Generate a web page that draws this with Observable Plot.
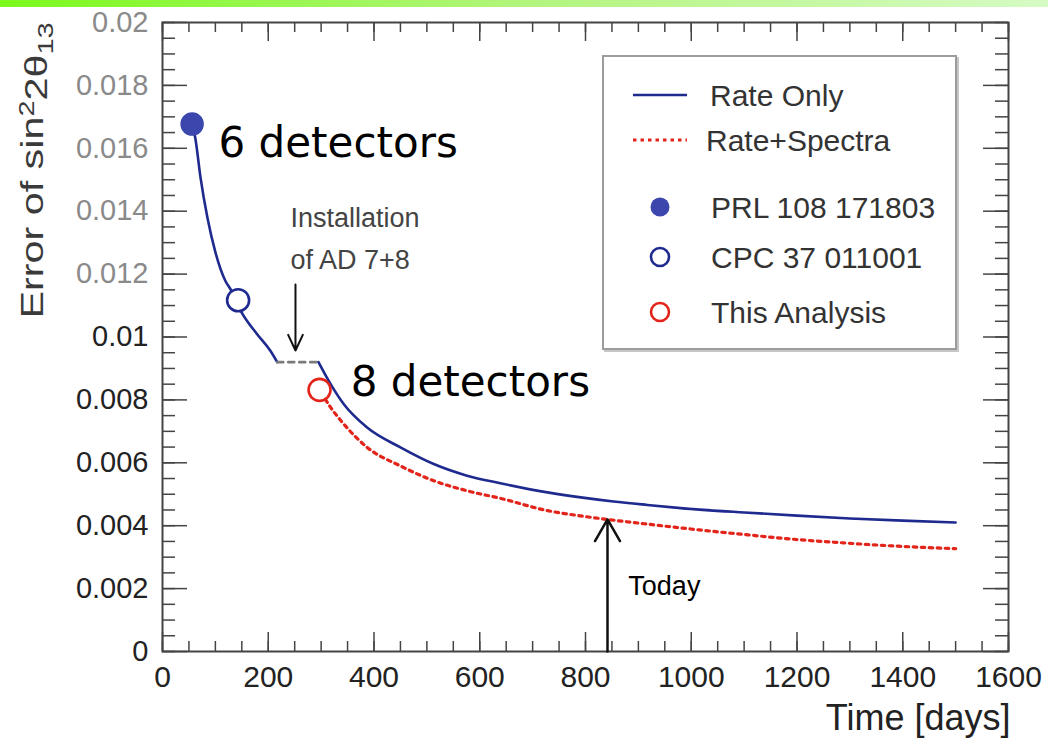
<!DOCTYPE html>
<html>
<head>
<meta charset="utf-8">
<script src="https://cdn.jsdelivr.net/npm/d3@7"></script>
<script src="https://cdn.jsdelivr.net/npm/@observablehq/plot@0.6"></script>
<style>
  html, body { margin: 0; padding: 0; background: #fff; }
  #wrap { position: relative; width: 1048px; height: 744px; overflow: hidden; }
  #topbar { position: absolute; left: 0; top: 0; width: 1048px; height: 7px;
            background: linear-gradient(to right, #7cf91c, #b2f57c 50%, #d6fbc4); }
  #legend { position: absolute; left: 602px; top: 55px; width: 351px; height: 291px;
            border: 2px solid #9c9c9c; box-shadow: 2px 2px 0 #c6c6c6; background: #fff; }
</style>
</head>
<body>
<div id="wrap">
  <div id="chart"></div>
  <div id="topbar"></div>
  <div id="legend"></div>
</div>
<script>
// Sensitivity projection: error of sin^2(2θ13) versus data-taking time

// Rate-only projection, 6-detector period
const rateOnly6Days = [56, 62, 72, 85, 100, 119, 129, 149, 179, 204, 217];
const rateOnly6Err  = [0.01677, 0.01633, 0.01506, 0.01379, 0.0127, 0.01178, 0.01151, 0.0108, 0.01009, 0.00956, 0.0092];

// Pause while AD 7+8 are installed
const installDays = [217, 295];
const installErr  = [0.0092, 0.0092];

// Rate-only projection, 8-detector period
const rateOnly8Days = [295, 318, 343, 387, 450, 513, 576, 639, 728, 791, 853, 917, 980, 1100, 1200, 1300, 1400, 1500];
const rateOnly8Err  = [0.0092, 0.0085, 0.00786, 0.00712, 0.00649, 0.00596, 0.00559, 0.00535, 0.00506, 0.0049, 0.00477, 0.00466, 0.00456, 0.00442, 0.00432, 0.00423, 0.00416, 0.0041];

// Rate + spectra projection
const rateSpecDays = [308, 318, 343, 387, 450, 513, 576, 639, 728, 791, 841, 917, 980, 1100, 1200, 1300, 1400, 1500];
const rateSpecErr  = [0.00802, 0.00776, 0.00723, 0.00649, 0.0059, 0.00543, 0.00511, 0.00487, 0.00448, 0.00431, 0.0042, 0.00405, 0.00393, 0.00372, 0.00356, 0.00344, 0.00334, 0.00327];

// Published results
const resultLabels = ["PRL 108 171803", "CPC 37 011001", "This Analysis"];
const resultDays   = [56, 143, 297];
const resultErr    = [0.01677, 0.01117, 0.00832];

// Annotations
const detectorText = ["6 detectors", "8 detectors"];
const detectorDays = [106, 356];
const detectorErr  = [0.01615, 0.00855];
const installText  = ["Installation", "of AD 7+8"];
const installTextDay = 242;
const installTextErr = [0.01377, 0.01243];
const installArrow = {day: 251.5, from: 0.01167, to: 0.00957};
const todayText = "Today";
const todayTextDay = 881;
const todayTextErr = 0.00207;
const todayArrow = {day: 841.6, from: 0, to: 0.0042};

// Axes
const xTickLabels = [0, 200, 400, 600, 800, 1000, 1200, 1400, 1600];
const yTickLabels = [0, 0.002, 0.004, 0.006, 0.008, 0.01, 0.012, 0.014, 0.016, 0.018, 0.02];
const xMinor = d3.range(0, 1601, 50);
const yMinor = d3.range(0, 0.02001, 0.0005);
const xTitle = "Time [days]";
const yTitlePlain = "Error of sin22θ13";

// Colours
const blueLine = "#1f2a8f";
const blueFill = "#3b47ad";
const redColor = "#e3241b";
const gapColor = "#7a7a7a";
const axisColor = "#444";

// Layout
const W = 1048, H = 744;
const mL = 162, mR = 40, mT = 22, mB = 93;
const dayPerPx = 1600 / (W - mL - mR);
const errPerPx = 0.02 / (H - mT - mB);

const toRows = (xs, ys) => xs.map((x, i) => ({x, y: ys[i]}));
const rows6 = toRows(rateOnly6Days, rateOnly6Err);
const rowsGap = toRows(installDays, installErr);
const rows8 = toRows(rateOnly8Days, rateOnly8Err);
const rowsSpec = toRows(rateSpecDays, rateSpecErr);
const results = resultLabels.map((label, i) => ({label, x: resultDays[i], y: resultErr[i]}));

const ticksOn = (side, values, len) => {
  if (side === "bottom") return Plot.ruleX(values, {x: d => d, y1: 0, y2: len * errPerPx, stroke: axisColor, strokeWidth: 1.5});
  if (side === "top") return Plot.ruleX(values, {x: d => d, y1: 0.02, y2: 0.02 - len * errPerPx, stroke: axisColor, strokeWidth: 1.5});
  if (side === "left") return Plot.ruleY(values, {y: d => d, x1: 0, x2: len * dayPerPx, stroke: axisColor, strokeWidth: 1.5});
  return Plot.ruleY(values, {y: d => d, x1: 1600, x2: 1600 - len * dayPerPx, stroke: axisColor, strokeWidth: 1.5});
};

const fmtY = d => String(+d.toFixed(3));
const fmtX = d => String(d);

const chart = Plot.plot({
  width: W, height: H,
  marginLeft: mL, marginRight: mR, marginTop: mT, marginBottom: mB,
  x: {domain: [0, 1600]},
  y: {domain: [0, 0.02]},
  style: {fontFamily: "'Liberation Sans', Arial, sans-serif", background: "#fff", overflow: "visible"},
  marks: [
    // tick marks on all four sides, pointing inward
    ticksOn("bottom", xMinor, 10), ticksOn("bottom", xTickLabels, 19),
    ticksOn("top", xMinor, 10), ticksOn("top", xTickLabels, 19),
    ticksOn("left", yMinor, 13), ticksOn("left", yTickLabels, 25),
    ticksOn("right", yMinor, 13), ticksOn("right", yTickLabels, 25),
    Plot.frame({stroke: axisColor, strokeWidth: 2}),

    Plot.axisX(xTickLabels, {tickSize: 0, tickPadding: 14, fontSize: 30, fill: "#222", tickFormat: fmtX, label: null}),
    Plot.axisY(yTickLabels.filter(d => d > 0.011), {tickSize: 0, tickPadding: 14, fontSize: 29, fill: "#8a8a8a", tickFormat: fmtY, label: null}),
    Plot.axisY(yTickLabels.filter(d => d < 0.011), {tickSize: 0, tickPadding: 14, fontSize: 29, fill: "#222", tickFormat: fmtY, label: null}),

    Plot.text([xTitle], {text: d => d, frameAnchor: "bottom-right", dx: 2, dy: 67, textAnchor: "end", lineAnchor: "middle", fontSize: 36, fill: "#222"}),
    Plot.text([yTitlePlain], {text: d => d, frameAnchor: "top-left", dx: -129, dy: 0, rotate: -90, textAnchor: "end", lineAnchor: "middle", fontSize: 31, fill: "#3a3a3a"}),

    // projections
    Plot.line(rowsSpec, {x: "x", y: "y", stroke: redColor, strokeWidth: 3.2, strokeDasharray: "3.5 4.5", curve: "monotone-x"}),
    Plot.line(rows6, {x: "x", y: "y", stroke: blueLine, strokeWidth: 2.6, curve: "monotone-x"}),
    Plot.line(rowsGap, {x: "x", y: "y", stroke: gapColor, strokeWidth: 2.6, strokeDasharray: "6 5"}),
    Plot.line(rows8, {x: "x", y: "y", stroke: blueLine, strokeWidth: 2.6, curve: "monotone-x"}),

    // published results
    Plot.dot(results.slice(0, 1), {x: "x", y: "y", r: 11, fill: blueFill, stroke: blueFill}),
    Plot.dot(results.slice(1, 2), {x: "x", y: "y", r: 11, fill: "#fff", stroke: blueLine, strokeWidth: 2.6}),
    Plot.dot(results.slice(2, 3), {x: "x", y: "y", r: 11, fill: "none", stroke: redColor, strokeWidth: 2.6}),

    // annotations
    Plot.text(detectorText, {text: d => d, x: (d, i) => detectorDays[i], y: (d, i) => detectorErr[i], textAnchor: "start", fontSize: 42, fontFamily: "'DejaVu Sans', sans-serif", fill: "#000"}),
    Plot.text(installText, {text: d => d, x: () => installTextDay, y: (d, i) => installTextErr[i], textAnchor: "start", fontSize: 27, fill: "#444"}),
    Plot.arrow([installArrow], {x1: "day", x2: "day", y1: "from", y2: "to", stroke: "#111", strokeWidth: 2, headLength: 13, headAngle: 50}),
    Plot.text([todayText], {text: d => d, x: () => todayTextDay, y: () => todayTextErr, textAnchor: "start", fontSize: 27, fill: "#000"}),
    Plot.arrow([todayArrow], {x1: "day", x2: "day", y1: "from", y2: "to", stroke: "#111", strokeWidth: 2.5, headLength: 15, headAngle: 60})
  ]
});

document.getElementById("chart").appendChild(chart);

// y title with superscript and subscript
d3.select(chart).selectAll("text").filter(function() { return this.textContent === yTitlePlain; })
  .each(function() {
    const t = d3.select(this);
    t.text(null);
    t.append("tspan").text("Error of sin");
    t.append("tspan").attr("dy", "-0.42em").attr("font-size", "0.7em").text("2");
    t.append("tspan").attr("dy", "0.42em").text("2θ");
    t.append("tspan").attr("dy", "0.28em").attr("font-size", "0.7em").text("13");
    t.attr("textLength", 296).attr("lengthAdjust", "spacingAndGlyphs");
  });

// legend
const legendItems = [
  {label: "Rate Only", kind: "line", y: 38, tx: 106},
  {label: "Rate+Spectra", kind: "dotted", y: 83, tx: 102},
  {label: resultLabels[0], kind: "filled", y: 150, tx: 107},
  {label: resultLabels[1], kind: "openBlue", y: 200, tx: 107},
  {label: resultLabels[2], kind: "openRed", y: 255, tx: 107}
];
const lg = d3.select("#legend").append("svg").attr("width", 351).attr("height", 291)
  .style("font-family", "'Liberation Sans', Arial, sans-serif");
for (const it of legendItems) {
  if (it.kind === "line") lg.append("line").attr("x1", 29).attr("x2", 83).attr("y1", it.y).attr("y2", it.y).attr("stroke", blueLine).attr("stroke-width", 2.6);
  if (it.kind === "dotted") lg.append("line").attr("x1", 29).attr("x2", 83).attr("y1", it.y).attr("y2", it.y).attr("stroke", redColor).attr("stroke-width", 3).attr("stroke-dasharray", "3.5 4");
  if (it.kind === "filled") lg.append("circle").attr("cx", 56).attr("cy", it.y).attr("r", 9.5).attr("fill", blueFill);
  if (it.kind === "openBlue") lg.append("circle").attr("cx", 56).attr("cy", it.y).attr("r", 9).attr("fill", "none").attr("stroke", blueLine).attr("stroke-width", 2.6);
  if (it.kind === "openRed") lg.append("circle").attr("cx", 56).attr("cy", it.y).attr("r", 9).attr("fill", "none").attr("stroke", redColor).attr("stroke-width", 2.6);
  lg.append("text").attr("x", it.tx).attr("y", it.y).attr("dy", "0.35em").attr("font-size", 30).attr("fill", "#333").text(it.label);
}
</script>
</body>
</html>
